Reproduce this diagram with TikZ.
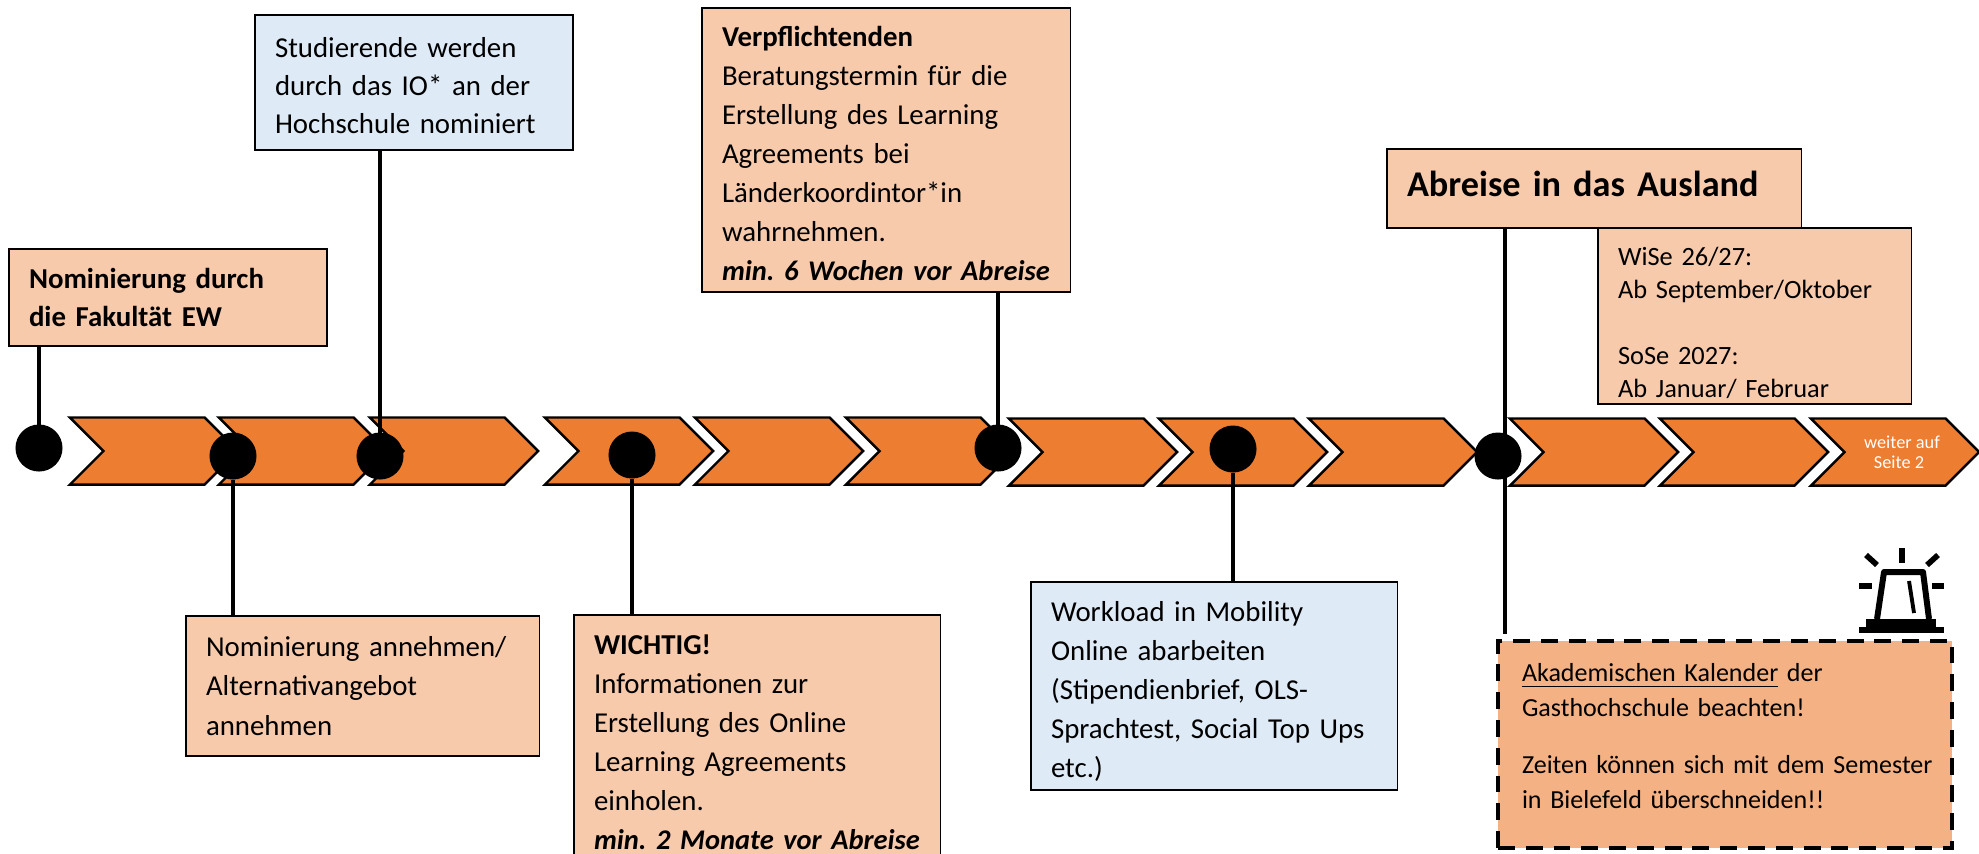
\documentclass[tikz,border=0pt]{standalone}
\usepackage{fontspec}
\setmainfont{Carlito}
\usetikzlibrary{shapes.symbols}
\definecolor{pfeilorange}{HTML}{ED7D31}
\definecolor{hellorange}{HTML}{F7CAAC}
\definecolor{hellblau}{HTML}{DEEAF6}
\definecolor{warnorange}{HTML}{F4B183}
\frenchspacing
\newcommand{\frist}[1]{\mbox{\fontsize{8.1}{11.1}\selectfont\textbf{\itshape #1}}}
\begin{document}
\begin{tikzpicture}[x=0.01cm, y=-0.01cm]
\tikzset{pfeil/.style={draw, fill=pfeilorange, line width=0.7pt, shape=signal, signal from=west, signal to=east, signal pointer angle=90, minimum width=1.68cm, minimum height=0.67cm, inner sep=0pt, outer sep=0pt}}
\tikzset{punkt/.style={circle, fill=black, minimum size=0.47cm, inner sep=0pt, outer sep=0pt}}
\tikzset{kasten/.style={draw, line width=0.4pt, anchor=north west, align=left, inner xsep=0.2cm, inner ysep=0pt, outer sep=0pt, font=\fontsize{8.2}{11.1}\selectfont}}
\tikzset{orangekasten/.style={kasten, fill=hellorange}}
\tikzset{blaukasten/.style={kasten, fill=hellblau}}
\tikzset{linie/.style={line width=1.1pt}}
\clip (0,0) rectangle (1979,853);
\node[pfeil] (P1) at (154,451) {};
\node[pfeil] (P2) at (303,451) {};
\node[pfeil] (P3) at (454,451) {};
\node[pfeil] (P4) at (629,451) {};
\node[pfeil] (P5) at (779,451) {};
\node[pfeil] (P6) at (930,451) {};
\node[pfeil] (P7) at (1093,452) {};
\node[pfeil] (P8) at (1243,452) {};
\node[pfeil] (P9) at (1393,452) {};
\node[pfeil] (P10) at (1594,452) {};
\node[pfeil] (P11) at (1744,452) {};
\node[pfeil, text=white, align=center, font=\fontsize{5.2}{5.7}\selectfont] (P12) at (1895,452) {\hspace*{0.14cm}weiter auf\\\hspace*{0.08cm}Seite 2};
\node[orangekasten, text width=2.78cm, minimum height=0.97cm, font=\fontsize{8.2}{10.6}\selectfont] (K1) at (9,249) {\textbf{Nominierung durch}\\\textbf{die Fakultät EW}};
\node[blaukasten, text width=2.78cm, minimum height=1.35cm, font=\fontsize{8.2}{10.8}\selectfont] (K2) at (255,15) {\rule{0pt}{7.4pt}Studierende werden\\durch das IO* an der\\Hochschule nominiert};
\node[orangekasten, text width=3.28cm, minimum height=2.84cm] (K3) at (702,8) {\rule{0pt}{7.8pt}\textbf{Verpflichtenden}\\Beratungstermin für die\\Erstellung des Learning\\Agreements bei\\Länderkoordintor*in\\wahrnehmen.\\\frist{min. 6 Wochen vor Abreise}};
\node[orangekasten, text width=3.74cm, minimum height=0.79cm, font=\fontsize{10.3}{13}\selectfont\bfseries] (K4) at (1387,149) {\mbox{Abreise in das Ausland}\rule[-2.9pt]{0pt}{2.9pt}};
\node[orangekasten, text width=2.73cm, minimum height=1.76cm, font=\fontsize{7.5}{9.4}\selectfont] (K5) at (1598,228) {\rule{0pt}{9.1pt}WiSe 26/27:\\\mbox{Ab September/Oktober}\\[9.4pt]SoSe 2027:\\Ab Januar/ Februar};
\node[orangekasten, text width=3.13cm, minimum height=1.40cm] (K6) at (186,616) {Nominierung annehmen/\\Alternativangebot\\annehmen};
\node[orangekasten, text width=3.26cm, minimum height=2.54cm] (K7) at (574,615) {\textbf{WICHTIG!}\\Informationen zur\\Erstellung des Online\\Learning Agreements\\einholen.\\\frist{min. 2 Monate vor Abreise}};
\node[blaukasten, text width=3.26cm, minimum height=2.08cm] (K8) at (1031,582) {\rule{0pt}{8.9pt}Workload in Mobility\\Online abarbeiten\\(Stipendienbrief, OLS-\\\mbox{Sprachtest, Social Top Ups}\\etc.)};
\node[kasten, fill=warnorange, dashed, dash pattern=on 4.8pt off 3.1pt, line width=1.1pt, inner xsep=0.24cm, text width=4.06cm, minimum height=2.07cm, font=\fontsize{7.4}{10}\selectfont] (K9) at (1498,641) {\underline{Akademischen Kalender} der\\Gasthochschule beachten!\\[6.2pt]\mbox{Zeiten können sich mit dem Semester}\\in Bielefeld überschneiden!!\rule[-5pt]{0pt}{5pt}};
\node[punkt] (D1) at (39,448) {};
\node[punkt] (D2) at (233,456) {};
\node[punkt] (D3) at (380,456) {};
\node[punkt] (D4) at (632,455) {};
\node[punkt] (D5) at (998,448) {};
\node[punkt] (D6) at (1233,449) {};
\node[punkt] (D7) at (1498,456) {};
\coordinate (E7) at (1505,634);
\draw[linie] (K1.south -| D1) -- (D1);
\draw[linie] (K2.south -| D3) -- (D3);
\draw[linie] (K3.south -| D5) -- (D5);
\draw[linie] (K4.south -| E7) -- (D7.center -| E7);
\draw[linie] (D7.center -| E7) -- (E7);
\draw[linie] (D2) -- (K6.north -| D2);
\draw[linie] (D4) -- (K7.north -| D4);
\draw[linie] (D6) -- (K8.north -| D6);
\fill (1859,627) rectangle (1944,633);
\fill (1866,619) rectangle (1936,627);
\draw[line width=1.7pt, line join=round] (1877,619) -- (1884,572) -- (1923,572) -- (1929,619);
\draw[line width=1.1pt] (1909,581) -- (1914,613);
\draw[line width=1.6pt] (1902,548) -- (1902,563);
\draw[line width=1.6pt] (1866,555) -- (1877,565);
\draw[line width=1.6pt] (1938,555) -- (1927,565);
\draw[line width=1.6pt] (1859,586) -- (1872,586);
\draw[line width=1.6pt] (1932,586) -- (1944,586);
\end{tikzpicture}
\end{document}
